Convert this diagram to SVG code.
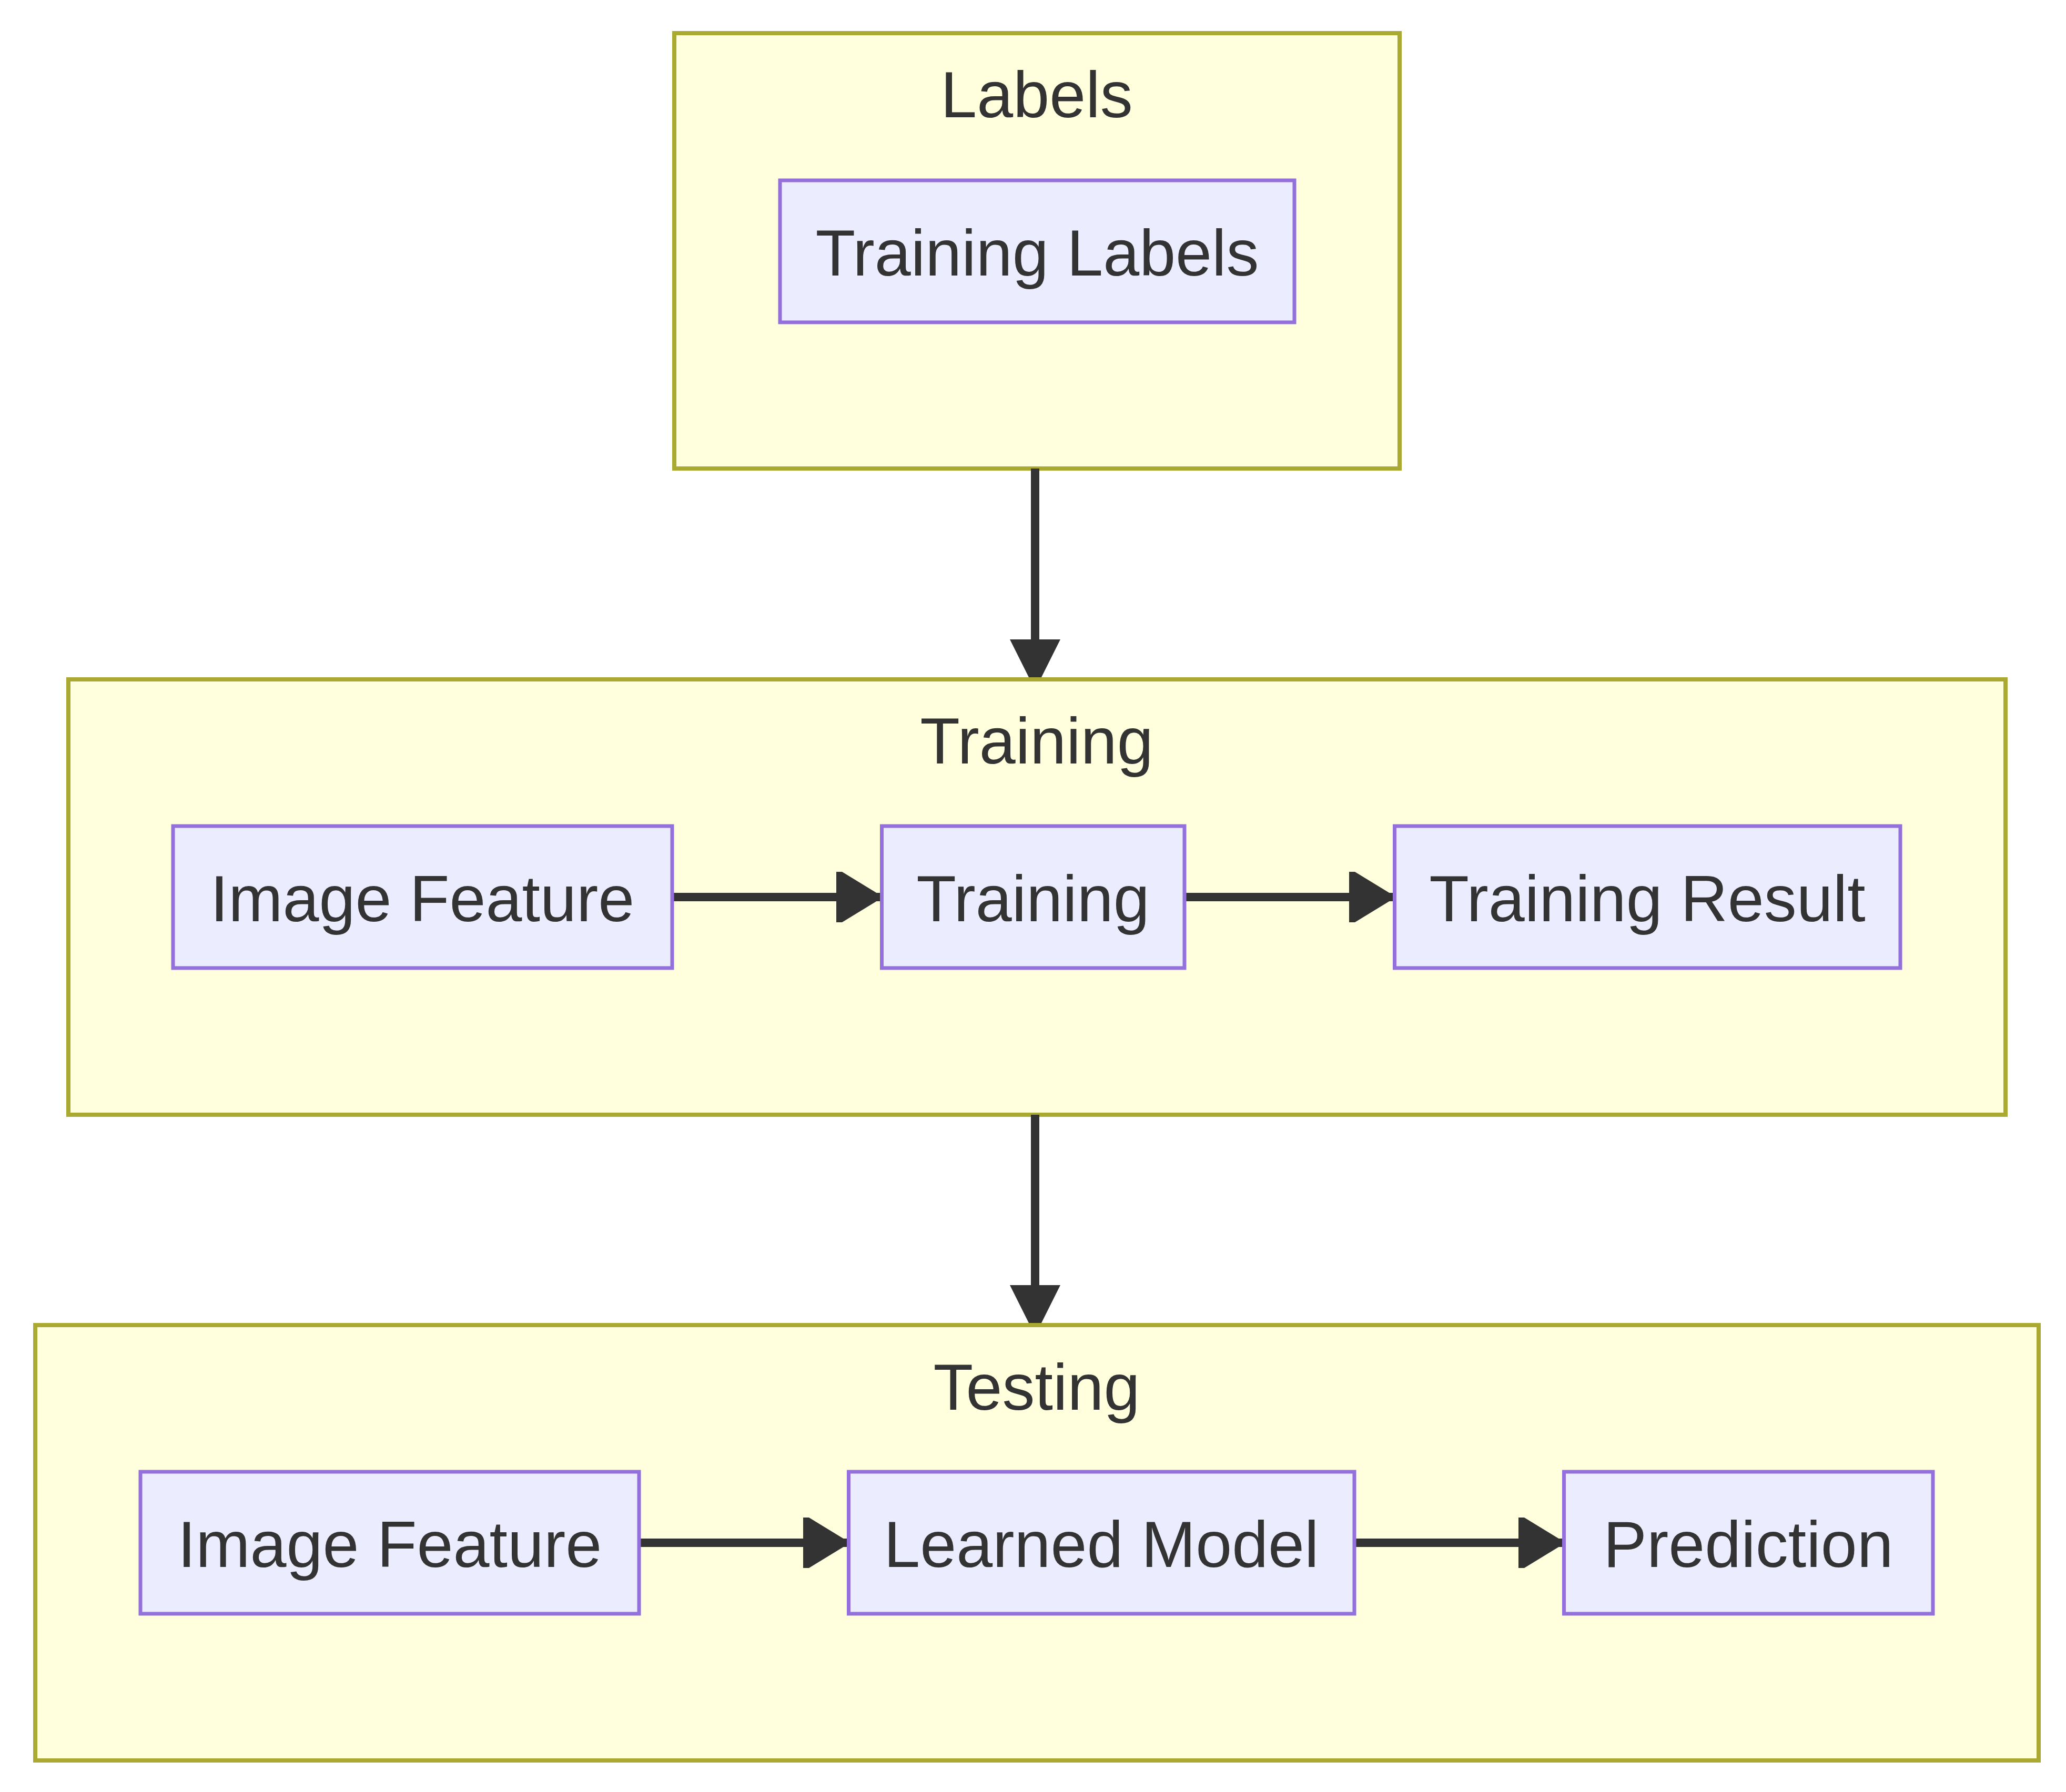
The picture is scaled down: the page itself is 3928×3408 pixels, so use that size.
<svg xmlns="http://www.w3.org/2000/svg" width="3928" height="3408" viewBox="0 0 3928 3408">
<style>
.cluster{fill:#ffffde;stroke:#aaaa33;stroke-width:8}
.node{fill:#ececff;stroke:#9370db;stroke-width:7}
.lbl{font-family:"Liberation Sans",Arial,sans-serif;font-size:124px;fill:#333333;text-anchor:middle}
.edge{stroke:#333333;stroke-width:16;fill:none}
</style>
<defs>
<marker id="arrow-h" viewBox="0 0 83 96" refX="83" refY="48" markerWidth="83" markerHeight="96" markerUnits="userSpaceOnUse" orient="auto">
<path d="M0,0 L11,0 L83,44 L83,52 L11,96 L0,96 z" fill="#333333"/>
</marker>
<marker id="arrow-v" viewBox="0 0 72 96" refX="72" refY="48" markerWidth="72" markerHeight="96" markerUnits="userSpaceOnUse" orient="auto">
<path d="M0,0 L72,36 L72,60 L0,96 z" fill="#333333"/>
</marker>
</defs>
<rect width="3928" height="3408" fill="#ffffff"/>
<g id="cluster-labels">
<rect class="cluster" x="1282" y="63" width="1379" height="828"/>
<text class="lbl" x="1971" y="223">Labels</text>
</g>
<g id="cluster-training">
<rect class="cluster" x="130" y="1292" width="3683" height="828"/>
<text class="lbl" x="1971" y="1452">Training</text>
</g>
<g id="cluster-testing">
<rect class="cluster" x="67" y="2520" width="3809" height="828"/>
<text class="lbl" x="1971" y="2681">Testing</text>
</g>
<g id="connectors">
<line class="edge" x1="1968" y1="891" x2="1968" y2="1288" marker-end="url(#arrow-v)"/>
<line class="edge" x1="1968" y1="2120" x2="1968" y2="2516" marker-end="url(#arrow-v)"/>
<line class="edge" x1="1278" y1="1706" x2="1673" y2="1706" marker-end="url(#arrow-h)"/>
<line class="edge" x1="2252" y1="1706" x2="2648" y2="1706" marker-end="url(#arrow-h)"/>
<line class="edge" x1="1215" y1="2934" x2="1610" y2="2934" marker-end="url(#arrow-h)"/>
<line class="edge" x1="2575" y1="2934" x2="2970" y2="2934" marker-end="url(#arrow-h)"/>
</g>
<g id="node-training-labels">
<rect class="node" x="1483" y="343" width="978" height="270"/>
<text class="lbl" x="1972" y="524">Training Labels</text>
</g>
<g id="node-image-feature-train">
<rect class="node" x="329" y="1571" width="949" height="270"/>
<text class="lbl" x="803" y="1752">Image Feature</text>
</g>
<g id="node-training">
<rect class="node" x="1676.5" y="1571" width="575.5" height="270"/>
<text class="lbl" x="1964" y="1752">Training</text>
</g>
<g id="node-training-result">
<rect class="node" x="2651.5" y="1571" width="961.5" height="270"/>
<text class="lbl" x="3132" y="1752">Training Result</text>
</g>
<g id="node-image-feature-test">
<rect class="node" x="267" y="2799" width="948" height="270"/>
<text class="lbl" x="741" y="2980">Image Feature</text>
</g>
<g id="node-learned-model">
<rect class="node" x="1613.5" y="2799" width="961.5" height="270"/>
<text class="lbl" x="2094" y="2980">Learned Model</text>
</g>
<g id="node-prediction">
<rect class="node" x="2973.5" y="2799" width="701.5" height="270"/>
<text class="lbl" x="3324" y="2980">Prediction</text>
</g>
</svg>
